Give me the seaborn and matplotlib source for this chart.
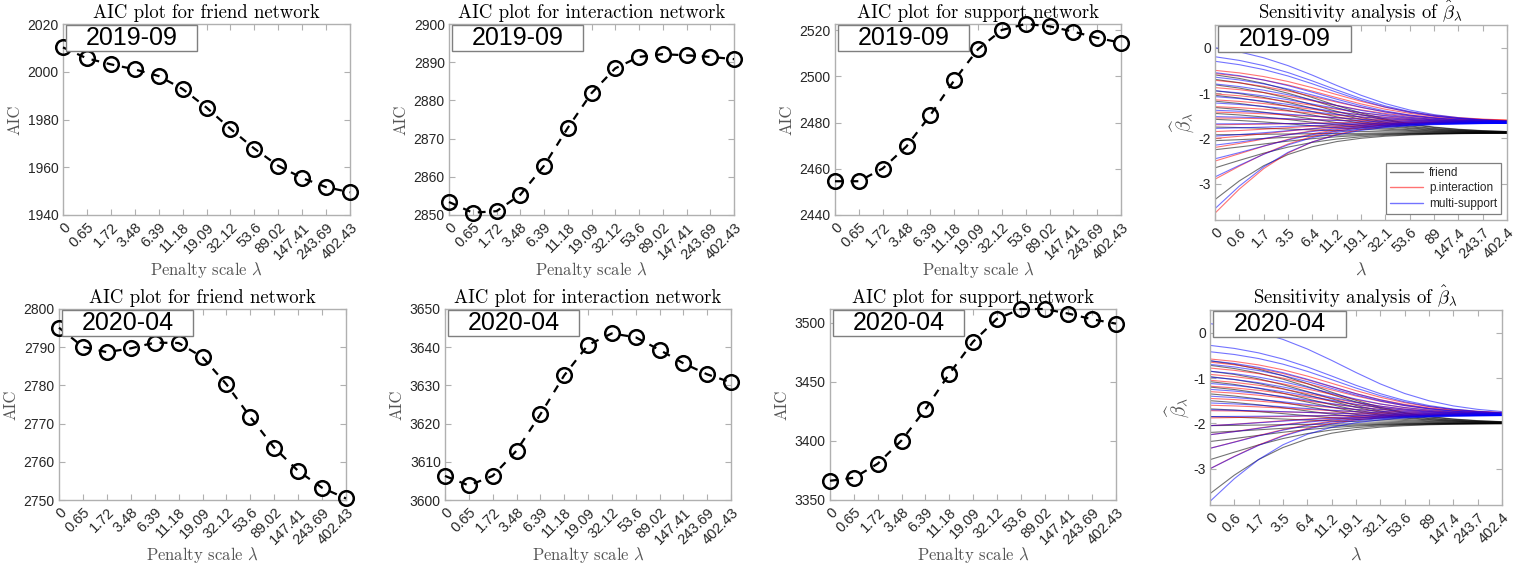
import numpy as np
import pandas as pd
import matplotlib
matplotlib.use("Agg")
import matplotlib.pyplot as plt
import seaborn as sns
from matplotlib.patches import Rectangle
from matplotlib.lines import Line2D

# ---------------------------------------------------------------- data
lambdas = [0, 0.65, 1.72, 3.48, 6.39, 11.18, 19.09, 32.12, 53.6, 89.02,
           147.41, 243.69, 402.43]
aic_ticklabels = ["0", "0.65", "1.72", "3.48", "6.39", "11.18", "19.09",
                  "32.12", "53.6", "89.02", "147.41", "243.69", "402.43"]
beta_ticklabels = ["0", "0.6", "1.7", "3.5", "6.4", "11.2", "19.1", "32.1",
                   "53.6", "89", "147.4", "243.7", "402.4"]
periods = ["2019-09", "2020-04"]
networks = ["friend", "interaction", "support"]

aic_friend_2019 = [2010.2, 2005.6, 2003.1, 2001.0, 1998.2, 1992.8, 1985.0,
                   1976.1, 1967.8, 1960.6, 1955.5, 1951.7, 1949.5]
aic_interaction_2019 = [2853.4, 2850.6, 2851.0, 2855.3, 2862.9, 2872.8, 2881.9,
                        2888.4, 2891.4, 2892.1, 2891.8, 2891.4, 2890.8]
aic_support_2019 = [2454.6, 2454.6, 2460.1, 2469.7, 2483.2, 2498.2, 2511.7,
                    2520.0, 2522.6, 2521.6, 2519.3, 2516.6, 2514.5]
aic_friend_2020 = [2795.1, 2790.1, 2788.7, 2789.7, 2791.2, 2791.1, 2787.4,
                   2780.3, 2771.7, 2763.7, 2757.6, 2753.2, 2750.4]
aic_interaction_2020 = [3606.3, 3603.8, 3606.3, 3612.9, 3622.4, 3632.6, 3640.6,
                        3643.6, 3642.6, 3639.3, 3635.8, 3632.9, 3630.8]
aic_support_2020 = [3366.3, 3368.8, 3380.7, 3400.4, 3426.8, 3456.7, 3484.0,
                    3503.4, 3511.8, 3511.8, 3507.9, 3503.1, 3499.4]

aic_ylims = {
    ("2019-09", "friend"): (1940, 2020, 20),
    ("2019-09", "interaction"): (2850, 2900, 10),
    ("2019-09", "support"): (2440, 2522.6, 20),
    ("2020-04", "friend"): (2750, 2800, 10),
    ("2020-04", "interaction"): (3600, 3650, 10),
    ("2020-04", "support"): (3350, 3511.8, 50),
}
aic_series = {
    ("2019-09", "friend"): aic_friend_2019,
    ("2019-09", "interaction"): aic_interaction_2019,
    ("2019-09", "support"): aic_support_2019,
    ("2020-04", "friend"): aic_friend_2020,
    ("2020-04", "interaction"): aic_interaction_2020,
    ("2020-04", "support"): aic_support_2020,
}

# coefficient paths: unpenalised estimate, shrinkage weight, common target
beta_start_friend_2019 = [-0.60, -0.70, -0.82, -0.95, -1.05, -1.18, -1.32, -1.45,
                          -1.58, -1.75, -1.92, -2.05, -2.25, -2.65, -3.35]
beta_rate_friend_2019 = [0.10, 0.10, 0.11, 0.11, 0.12, 0.12, 0.13, 0.13,
                         0.14, 0.15, 0.20, 0.22, 0.30, 0.42, 0.60]
beta_start_inter_2019 = [-0.50, -0.57, -0.72, -0.88, -1.02, -1.15, -1.30, -1.42,
                         -1.55, -1.70, -1.85, -2.00, -2.20, -2.50, -2.90, -3.65]
beta_rate_inter_2019 = [0.08, 0.09, 0.10, 0.10, 0.11, 0.12, 0.12, 0.13,
                        0.14, 0.16, 0.18, 0.22, 0.28, 0.35, 0.45, 0.55]
beta_start_support_2019 = [0.00, -0.20, -0.30, -0.55, -0.65, -0.80, -0.95, -1.08,
                           -1.22, -1.38, -1.52, -1.68, -1.78, -1.95, -2.15, -2.45,
                           -2.85, -3.55]
beta_rate_support_2019 = [0.09, 0.09, 0.09, 0.10, 0.10, 0.11, 0.11, 0.12,
                          0.12, 0.13, 0.14, 0.15, 0.17, 0.20, 0.25, 0.32,
                          0.42, 0.55]
beta_target_2019 = {"friend": -1.88, "p.interaction": -1.63, "multi-support": -1.66}

beta_start_friend_2020 = [-0.62, -0.72, -0.85, -0.97, -1.08, -1.20, -1.35, -1.50,
                          -1.68, -1.85, -2.05, -2.20, -2.40, -2.80, -3.55]
beta_rate_friend_2020 = [0.09, 0.09, 0.10, 0.10, 0.11, 0.11, 0.12, 0.13,
                         0.14, 0.16, 0.20, 0.24, 0.30, 0.40, 0.55]
beta_start_inter_2020 = [-0.58, -0.65, -0.78, -0.92, -1.05, -1.18, -1.30, -1.45,
                         -1.60, -1.72, -1.88, -2.05, -2.25, -2.55, -3.00]
beta_rate_inter_2020 = [0.07, 0.08, 0.08, 0.09, 0.10, 0.10, 0.11, 0.12,
                        0.13, 0.15, 0.18, 0.22, 0.28, 0.35, 0.45]
beta_start_support_2020 = [0.20, -0.28, -0.42, -0.62, -0.70, -0.85, -0.98, -1.12,
                           -1.25, -1.40, -1.55, -1.70, -1.85, -2.05, -2.25, -2.55,
                           -3.00, -3.72]
beta_rate_support_2020 = [0.06, 0.07, 0.07, 0.08, 0.08, 0.09, 0.10, 0.10,
                          0.11, 0.12, 0.13, 0.15, 0.18, 0.22, 0.28, 0.35,
                          0.45, 0.55]
beta_target_2020 = {"friend": -2.00, "p.interaction": -1.80, "multi-support": -1.82}

beta_sets = {
    "2019-09": {
        "friend": (beta_start_friend_2019, beta_rate_friend_2019),
        "p.interaction": (beta_start_inter_2019, beta_rate_inter_2019),
        "multi-support": (beta_start_support_2019, beta_rate_support_2019),
    },
    "2020-04": {
        "friend": (beta_start_friend_2020, beta_rate_friend_2020),
        "p.interaction": (beta_start_inter_2020, beta_rate_inter_2020),
        "multi-support": (beta_start_support_2020, beta_rate_support_2020),
    },
}
beta_targets = {"2019-09": beta_target_2019, "2020-04": beta_target_2020}
group_colors = {"friend": "black", "p.interaction": "red", "multi-support": "blue"}


def beta_paths(period):
    rows = []
    lam = np.asarray(lambdas)
    for grp, (starts, rates) in beta_sets[period].items():
        target = beta_targets[period][grp]
        for k, (b0, r) in enumerate(zip(starts, rates)):
            path = target + (b0 - target) / (1.0 + r * lam)
            for j, v in enumerate(path):
                rows.append({"step": j, "beta": v, "network": grp,
                             "path": f"{grp}-{k}"})
    return pd.DataFrame(rows)


# ---------------------------------------------------------------- style
sns.set_theme(style="white")
plt.rcParams["font.family"] = ["Liberation Sans", "DejaVu Sans"]
plt.rcParams["mathtext.fontset"] = "cm"
plt.rcParams["axes.unicode_minus"] = False

W, H = 1536, 567
fig = plt.figure(figsize=(W / 100, H / 100), dpi=100)

SPINE = "#b0b0b0"
TICK = "#262626"
LABEL = "#555555"

rects = [
    [(63, 24, 350, 215), (449, 24, 734, 215), (835, 24, 1121, 215), (1215, 25, 1507, 220)],
    [(59, 309, 346, 500), (445, 309, 731, 500), (830, 309, 1116, 500), (1210, 310, 1502, 505)],
]


def px_axes(r):
    x1, y1, x2, y2 = r
    return fig.add_axes([x1 / W, 1 - y2 / H, (x2 - x1) / W, (y2 - y1) / H])


def style_axes(ax, labels):
    for s in ax.spines.values():
        s.set_color(SPINE)
        s.set_linewidth(1.0)
    ax.set_xticks(range(len(labels)))
    ax.set_xticklabels(labels, rotation=45, ha="right", rotation_mode="anchor")
    ax.tick_params(direction="in", length=4, width=0.8, color=SPINE,
                   labelsize=10, labelcolor=TICK, top=True, right=True,
                   bottom=True, left=True, pad=3)
    ax.tick_params(axis="x", labelsize=10.5, pad=4)
    ax.set_xlim(0, len(labels) - 1)


def place_xlabel(ax, center_px):
    # put the x label centre a fixed distance below the axes
    bb = ax.get_position()
    ax.xaxis.set_label_coords(0.5, -center_px / (bb.height * H))
    ax.xaxis.label.set_va("center")


def period_box(ax, text, width_px):
    bb = ax.get_position()
    w = width_px / (bb.width * W)
    h = 26 / (bb.height * H)
    x0 = 3 / (bb.width * W)
    ax.add_patch(Rectangle((x0, 1 - h - 0.005), w, h, transform=ax.transAxes,
                           facecolor="white", edgecolor="#7f7f7f", linewidth=1.0,
                           zorder=5, clip_on=False))
    ax.text(x0 + w / 2, 1 - h / 2 - 0.005, text, transform=ax.transAxes,
            ha="center", va="center", fontsize=18, color="black", zorder=6)


titles = {
    "friend": "AIC plot for friend network",
    "interaction": "AIC plot for interaction network",
    "support": "AIC plot for support network",
}

for row, period in enumerate(periods):
    for col, net in enumerate(networks):
        ax = px_axes(rects[row][col])
        vals = aic_series[(period, net)]
        df = pd.DataFrame({"step": range(len(vals)), "aic": vals})
        sns.lineplot(data=df, x="step", y="aic", ax=ax, color="black",
                     linewidth=1.6, linestyle=(0, (3.5, 3.5)), marker="o",
                     markersize=10.5, markerfacecolor="none",
                     markeredgecolor="black", markeredgewidth=1.8,
                     clip_on=False, zorder=3)
        lo, hi, step = aic_ylims[(period, net)]
        ax.set_ylim(lo, hi)
        ax.set_yticks(np.arange(lo, hi + 0.01, step))
        style_axes(ax, aic_ticklabels)
        ax.set_title(titles[net], fontfamily="cmr10", fontsize=13.5,
                     color="black", pad=4)
        ax.set_xlabel(r"Penalty scale $\lambda$", fontfamily="cmr10",
                      fontsize=12, color=LABEL)
        place_xlabel(ax, 55)
        ax.set_ylabel("AIC", fontfamily="cmr10", fontsize=12, color=LABEL,
                      labelpad=4)
        period_box(ax, period, 131)

    ax = px_axes(rects[row][3])
    paths = beta_paths(period)
    sns.lineplot(data=paths, x="step", y="beta", hue="network",
                 units="path", estimator=None, sort=False,
                 palette=group_colors, linewidth=0.8, alpha=0.55,
                 legend=False, ax=ax)
    ax.set_ylim(-3.8, 0.5)
    ax.set_yticks([0, -1, -2, -3])
    style_axes(ax, beta_ticklabels)
    ax.set_title(r"Sensitivity analysis of $\hat{\beta}_{\lambda}$",
                 fontfamily="cmr10", fontsize=13.5, color="black", pad=4)
    ax.set_xlabel(r"$\lambda$", fontsize=13, color=LABEL)
    place_xlabel(ax, 50)
    ax.set_ylabel(r"$\widehat{\beta}_{\lambda}$", fontsize=14, color=LABEL,
                  labelpad=2)
    period_box(ax, period, 133)
    if row == 0:
        handles = [Line2D([], [], color=group_colors[g], alpha=0.55, linewidth=1.0)
                   for g in group_colors]
        leg = ax.legend(handles, list(group_colors), loc="lower right",
                        fontsize=8.5, frameon=True, fancybox=False,
                        edgecolor="#7f7f7f", framealpha=1, handlelength=2.8,
                        handletextpad=0.5, borderpad=0.35, labelspacing=0.3,
                        borderaxespad=0.5)
        leg.get_frame().set_linewidth(0.9)

fig.savefig("out.png", dpi=100)
